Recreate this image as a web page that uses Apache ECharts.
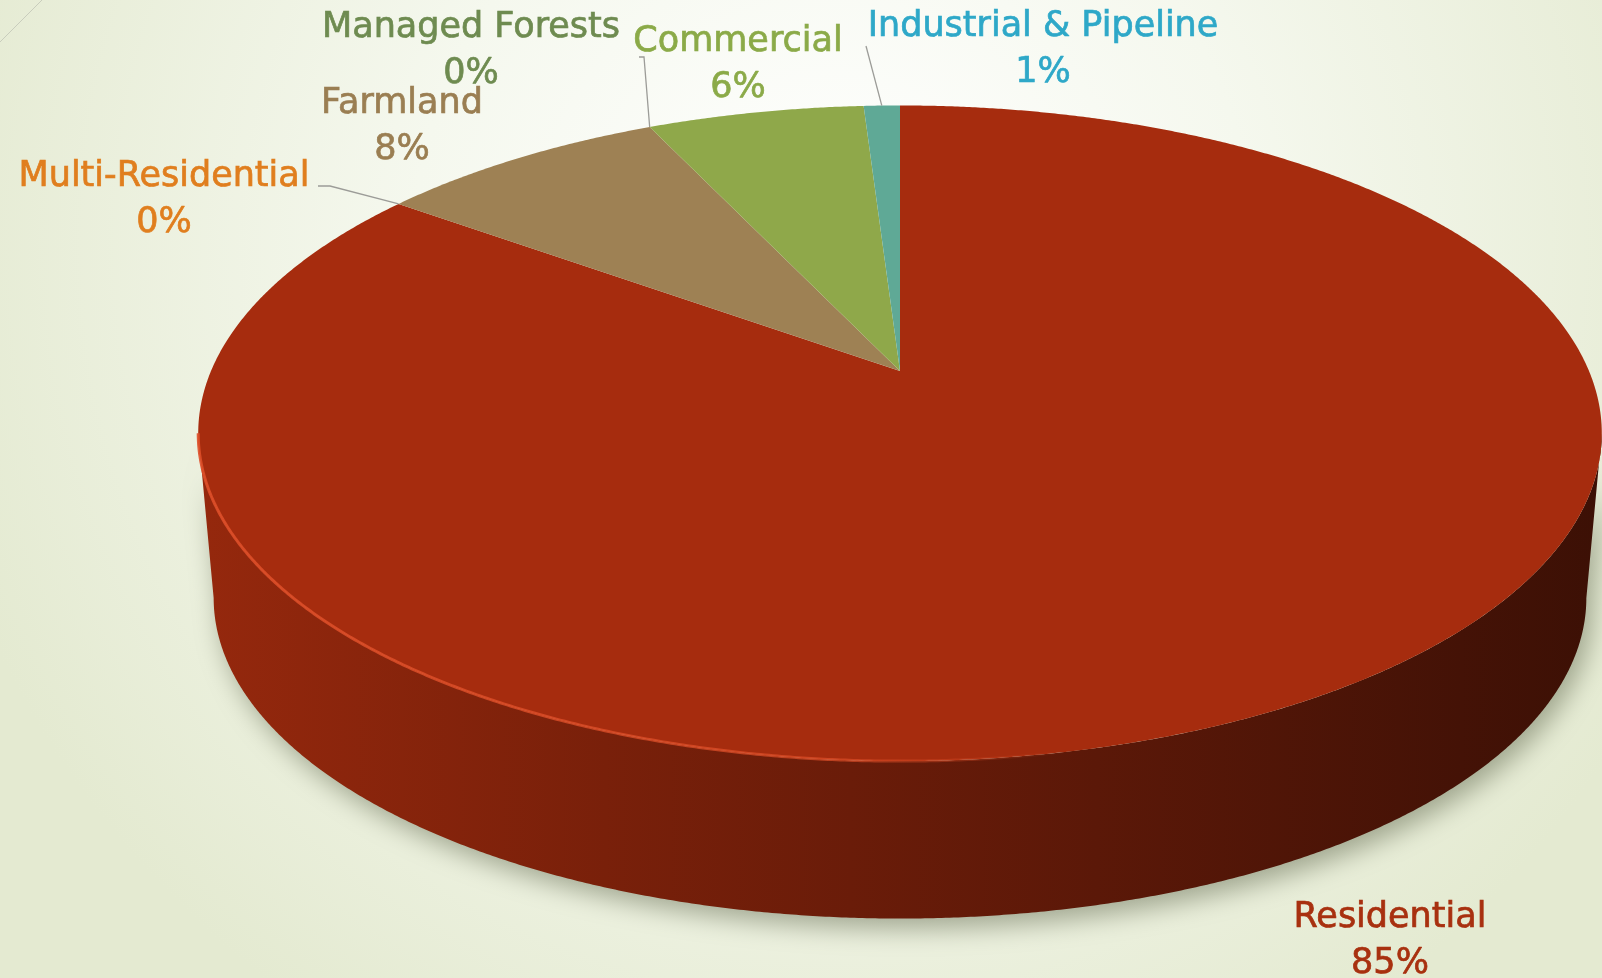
<!DOCTYPE html>
<html>
<head>
<meta charset="utf-8">
<style>
  html, body { margin: 0; padding: 0; }
  #chart { width: 1602px; height: 978px; }
</style>
<script src="https://cdn.jsdelivr.net/npm/echarts@6/dist/echarts.min.js"></script>
</head>
<body>
<div id="chart"></div>
<script>
// slices, clockwise from 12 o'clock
const categories = ['Residential', 'Multi-Residential', 'Farmland', 'Managed Forests', 'Commercial', 'Industrial & Pipeline'];
const shares = [85, 0, 8, 0, 6, 1];
const sliceColors = ['#A62C0E', '#E07E1E', '#9E8154', '#6E8B50', '#8FA84A', '#5FA996'];
const labelColors = ['#A8300F', '#E07E1E', '#9A7E52', '#6E8B50', '#8BAA48', '#2EA8C8'];

// where the two-line labels sit (px, centre) and where leader lines start
const labelLayout = [
  { x: 1390, y: 941 },
  { x: 164, y: 200, leader: [[318, 186], [330, 186]] },
  { x: 402, y: 127 },
  { x: 471, y: 51, leader: [[639, 57], [644, 57]] },
  { x: 738, y: 65 },
  { x: 1043, y: 50, leader: [[866, 46]] }
];

// tilted pie geometry (px)
const W = 1602, H = 978;
const CX = 900, CY = 371;     // apex of the slices
const RX = 689, RY = 316;     // radii before perspective
const K = 0.19;               // perspective strength
const DEPTH = 166;            // thickness of the pie
const FAR = 0.978;            // bottom face looks a bit smaller
const TWO_PI = Math.PI * 2;

const total = shares.reduce((a, b) => a + b, 0);
const starts = [];
let acc = 0;
shares.forEach(v => { starts.push(acc / total * TWO_PI); acc += v; });
const sweeps = shares.map(v => v / total * TWO_PI);

// visible part of the outer wall (silhouette points)
const WALL_FROM = Math.atan2(Math.sqrt(1 - K * K), -K);
const WALL_TO = TWO_PI - WALL_FROM;

function project(t, drop) {
  const u = Math.sin(t), v = Math.cos(t);
  const d = 1 + K * v;
  const s = drop ? FAR : 1;
  return [s * u / d, s * (RY / RX) * v / d - (drop || 0) / RX];
}

function arc(a0, a1) {
  const n = Math.max(2, Math.ceil((a1 - a0) / 0.005));
  const out = [];
  for (let j = 0; j <= n; j++) out.push(a0 + (a1 - a0) * j / n);
  return out;
}

function shade(hex, f) {
  const n = parseInt(hex.slice(1), 16);
  const c = [(n >> 16) & 255, (n >> 8) & 255, n & 255].map(x => Math.max(0, Math.min(255, Math.round(x * f))));
  return 'rgb(' + c.join(',') + ')';
}

function renderItem(params, api) {
  const i = params.dataIndex;
  const a0 = starts[i], a1 = a0 + sweeps[i];
  const pt = (t, drop) => api.coord(project(t, drop));
  const children = [];

  if (sweeps[i] > 0) {
    const face = [api.coord([0, 0])].concat(arc(a0, a1).map(t => pt(t)));
    children.push({
      type: 'polygon', z2: 10,
      shape: { points: face },
      style: { fill: sliceColors[i] }
    });

    const lo = Math.max(a0, WALL_FROM), hi = Math.min(a1, WALL_TO);
    if (hi > lo) {
      const ts = arc(lo, hi);
      const top = ts.map(t => pt(t));
      const bottom = ts.slice().reverse().map(t => pt(t, DEPTH));
      const xl = pt(WALL_TO)[0], xr = pt(WALL_FROM)[0];
      const c = sliceColors[i];
      children.push({
        type: 'polygon', z2: 1,
        shape: { points: top.concat(bottom) },
        style: {
          fill: new echarts.graphic.LinearGradient(xl, 0, xr, 0, [
            { offset: 0, color: shade(c, 0.9) },
            { offset: 0.29, color: shade(c, 0.73) },
            { offset: 0.64, color: shade(c, 0.55) },
            { offset: 0.9, color: shade(c, 0.41) },
            { offset: 1, color: shade(c, 0.36) }
          ], true),
          shadowBlur: 26,
          shadowOffsetX: 6,
          shadowOffsetY: 10,
          shadowColor: 'rgba(70,78,50,0.45)'
        }
      });
      // light bevel along the front rim
      children.push({
        type: 'polyline', z2: 11,
        shape: { points: top },
        style: {
          fill: null,
          lineWidth: 3,
          stroke: new echarts.graphic.LinearGradient(xl, 0, xr, 0, [
            { offset: 0, color: 'rgba(222,78,40,0.9)' },
            { offset: 0.45, color: 'rgba(222,78,40,0.7)' },
            { offset: 0.62, color: 'rgba(222,78,40,0)' },
            { offset: 1, color: 'rgba(222,78,40,0)' }
          ], true)
        }
      });
    }
  }

  // label + leader
  const lay = labelLayout[i];
  const pct = Math.round(shares[i] / total * 100) + '%';
  children.push({
    type: 'text', z2: 30,
    x: lay.x, y: lay.y,
    style: {
      text: categories[i] + '\n' + pct,
      fill: labelColors[i],
      stroke: labelColors[i],
      lineWidth: 0.7,
      fontSize: 35,
      fontFamily: '"DejaVu Sans", sans-serif',
      align: 'center',
      verticalAlign: 'middle',
      lineHeight: 46
    }
  });
  if (lay.leader) {
    const mid = pt(a0 + sweeps[i] / 2);
    children.push({
      type: 'polyline', z2: 25,
      shape: { points: lay.leader.concat([mid]) },
      style: { fill: null, stroke: '#9C9C98', lineWidth: 1.3 }
    });
  }
  return { type: 'group', children: children };
}

const chart = echarts.init(document.getElementById('chart'));
chart.setOption({
  animation: false,
  backgroundColor: {
    type: 'radial', x: 0.52, y: 0.25, r: 0.95,
    colorStops: [
      { offset: 0, color: '#FFFFFF' },
      { offset: 0.45, color: '#F5F8EE' },
      { offset: 1, color: '#E4EAD1' }
    ]
  },
  graphic: [{
    type: 'line', silent: true,
    shape: { x1: 0, y1: 42, x2: 42, y2: 0 },
    style: { stroke: '#C9CDBD', lineWidth: 1 }
  }],
  grid: { left: 0, right: 0, top: 0, bottom: 0 },
  xAxis: { type: 'value', min: -CX / RX, max: (W - CX) / RX, show: false },
  yAxis: { type: 'value', min: -(H - CY) / RX, max: CY / RX, show: false },
  series: [{
    type: 'custom',
    coordinateSystem: 'cartesian2d',
    silent: true,
    renderItem: renderItem,
    data: categories.map((c, i) => [i, shares[i]])
  }]
});
</script>
</body>
</html>
